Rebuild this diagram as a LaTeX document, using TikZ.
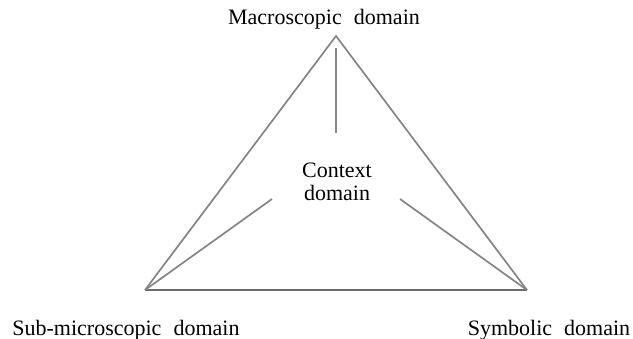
\documentclass[tikz,border=0pt]{standalone}
\usepackage{fontspec}
\setmainfont{Liberation Serif}
\begin{document}
\begin{tikzpicture}[x=1pt,y=-1pt,
  edge/.style={draw=black!48,line width=1.7pt},
  lbl/.style={font=\fontsize{22}{23}\selectfont,inner sep=0pt,align=center}]
\useasboundingbox (0,0) rectangle (633,339);
\coordinate (T) at (336,36);
\coordinate (L) at (145,290);
\coordinate (R) at (527,290);
\coordinate (tin) at (336,48);
\coordinate (tend) at (336,133);
\coordinate (lend) at (272,199);
\coordinate (rend) at (400,199);
\draw[edge] (L) -- (T) -- (R);
\draw[edge,draw=black!58] (L) -- (R);
\draw[edge] (tin) -- (tend);
\draw[edge] (L) -- (lend);
\draw[edge] (R) -- (rend);
\node[lbl] (mac) at (324,19) {Macroscopic\hspace{0.55em}domain};
\node[lbl] (ctx) at (337,182) {Context\\domain};
\node[lbl] (sub) at (126,330) {Sub-microscopic\hspace{0.55em}domain};
\node[lbl] (sym) at (549,330) {Symbolic\hspace{0.55em}domain};
\end{tikzpicture}
\end{document}
